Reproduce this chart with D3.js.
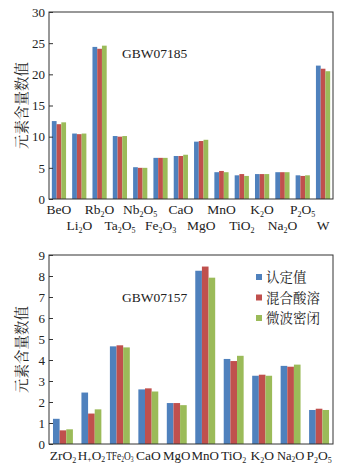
<!DOCTYPE html>
<html>
<head>
<meta charset="utf-8">
<script src="https://cdn.jsdelivr.net/npm/d3@7"></script>
<style>
  body { margin: 0; background: #fff; }
  svg { display: block; }
  .tick text { font-family: "Liberation Serif", "DejaVu Serif", serif; font-size: 13px; fill: #222; }
  .lbl { font-family: "Liberation Serif", serif; font-size: 13.5px; fill: #222; }
  .cjk { font-family: "Noto Serif CJK SC", "Noto Sans CJK SC", sans-serif; fill: #222; }
</style>
</head>
<body>
<svg width="351" height="470"></svg>
<script>
// series names (legend)
const seriesNames = ["认定值", "混合酸溶", "微波密闭"];
const colors = ["#4f81bd", "#c0504d", "#9bbb59"];

// GBW07185 - top panel
const topCats = ["BeO", "Li_2O", "Rb_2O", "Ta_2O_5", "Nb_2O_5", "Fe_2O_3", "CaO", "MgO", "MnO", "TiO_2", "K_2O", "Na_2O", "P_2O_5", "W"];
const topCertified = [12.5, 10.5, 24.4, 10.1, 5.1, 6.6, 6.9, 9.2, 4.3, 3.8, 4.0, 4.3, 3.8, 21.4];
const topAcid = [12.0, 10.4, 24.1, 10.0, 5.0, 6.6, 6.9, 9.3, 4.5, 4.0, 4.0, 4.3, 3.7, 20.9];
const topMicro = [12.3, 10.5, 24.6, 10.1, 5.0, 6.6, 7.1, 9.5, 4.3, 3.7, 4.0, 4.3, 3.8, 20.5];
const topTicks = [0, 5, 10, 15, 20, 25, 30];

// GBW07157 - bottom panel
const botCats = ["ZrO_2", "H_+O_2", "TFe_2O_3", "CaO", "MgO", "MnO", "TiO_2", "K_2O", "Na_2O", "P_2O_5"];
const botCertified = [1.2, 2.45, 4.65, 2.6, 1.95, 8.25, 4.05, 3.25, 3.72, 1.62];
const botAcid = [0.65, 1.45, 4.7, 2.65, 1.95, 8.45, 3.95, 3.3, 3.68, 1.68];
const botMicro = [0.7, 1.65, 4.6, 2.5, 1.85, 7.92, 4.2, 3.25, 3.78, 1.62];
const botTicks = [0, 1, 2, 3, 4, 5, 6, 7, 8, 9];

const svg = d3.select("svg");

// write "Rb_2O" as text with subscripts
function subText(sel, str) {
  const parts = str.split(/(_.)/).filter(p => p !== "");
  parts.forEach(p => {
    if (p[0] === "_") {
      sel.append("tspan").attr("baseline-shift", -2.5).attr("font-size", "8px").text(p[1]);
    } else {
      sel.append("tspan").text(p);
    }
  });
}

function panel(cats, series, ticks, yMax, top, bottom, title, titleY, twoRows, labelY, labelSize) {
  const left = 49, right = 333;
  const g = svg.append("g");

  const x = d3.scaleBand().domain(cats).range([left, right]).paddingInner(0.3).paddingOuter(0.14);
  const xs = d3.scaleBand().domain([0, 1, 2]).range([0, x.bandwidth()]);
  const y = d3.scaleLinear().domain([0, yMax]).range([bottom, top]);

  // bars
  series.forEach((vals, si) => {
    g.selectAll(null)
      .data(cats)
      .join("rect")
      .attr("x", d => x(d) + xs(si))
      .attr("width", xs.bandwidth())
      .attr("y", (d, i) => y(vals[i]))
      .attr("height", (d, i) => y(0) - y(vals[i]))
      .attr("fill", colors[si]);
  });

  // frame
  g.append("rect")
    .attr("x", left).attr("y", top)
    .attr("width", right - left).attr("height", bottom - top)
    .attr("fill", "none").attr("stroke", "#333").attr("stroke-width", 1);

  // y axis, ticks pointing inside
  const ax = g.append("g")
    .attr("transform", `translate(${left},0)`)
    .call(d3.axisLeft(y).tickValues(ticks).tickSize(-4).tickPadding(4).tickFormat(d3.format("d")));
  ax.select(".domain").remove();
  ax.selectAll(".tick line").attr("stroke", "#333");

  // x labels
  const room = twoRows ? x.step() * 2 : x.step() - 1;
  cats.forEach((c, i) => {
    const cx = x(c) + x.bandwidth() / 2;
    const cy = twoRows && i % 2 === 1 ? labelY + 16 : labelY;
    const t = g.append("text")
      .attr("class", "lbl")
      .attr("font-size", labelSize)
      .attr("transform", `translate(${cx},${cy})`)
      .attr("text-anchor", "middle");
    subText(t, c);
    // squeeze labels that would run into the next one
    const w = t.node().getComputedTextLength();
    if (w > room) t.attr("transform", `translate(${cx},${cy}) scale(${room / w},1)`);
  });

  // sample name
  g.append("text")
    .attr("class", "lbl")
    .attr("x", 122).attr("y", titleY)
    .text(title);

  // y title
  g.append("text")
    .attr("class", "cjk")
    .attr("transform", `translate(27,${(top + bottom) / 2}) rotate(-90)`)
    .attr("text-anchor", "middle")
    .attr("font-size", "14.5px")
    .text("元素含量数值");
}

panel(topCats, [topCertified, topAcid, topMicro], topTicks, 30, 12, 199, "GBW07185", 58, true, 214, "13.5px");
panel(botCats, [botCertified, botAcid, botMicro], botTicks, 9, 255, 444, "GBW07157", 302, false, 460, "12.5px");

// legend
const leg = svg.append("g");
seriesNames.forEach((n, i) => {
  leg.append("rect")
    .attr("x", 256).attr("y", 274 + i * 20.5)
    .attr("width", 6).attr("height", 6)
    .attr("fill", colors[i]);
  leg.append("text")
    .attr("class", "cjk")
    .attr("x", 266).attr("y", 282 + i * 20.5)
    .attr("font-size", "13.5px")
    .text(n);
});
</script>
</body>
</html>
